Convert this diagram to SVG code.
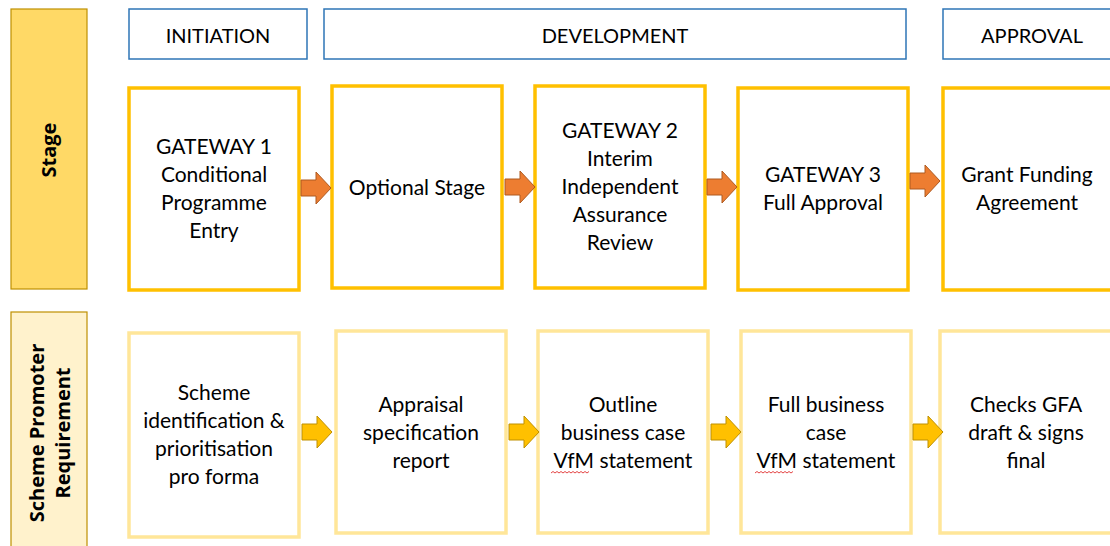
<svg xmlns="http://www.w3.org/2000/svg" width="1110" height="546" viewBox="0 0 1110 546">
<style>
.t{font-family:Lato,"Open Sans","Liberation Sans",sans-serif;font-size:21px;fill:#000;text-anchor:middle}
.h{font-family:Lato,"Open Sans","Liberation Sans",sans-serif;font-size:20px;fill:#000;text-anchor:middle}
.lb{font-family:"Open Sans","Noto Sans","Liberation Sans",sans-serif;font-size:20px;font-weight:bold;fill:#000;text-anchor:middle}
.hdr{fill:#fff;stroke:#2E75B6;stroke-width:1.5}
.top{fill:#fff;stroke:#FFC000;stroke-width:3.5}
.bot{fill:#fff;stroke:#FFE699;stroke-width:3.5}
.ao{fill:#ED7D31;stroke:#AE5A21;stroke-width:1}
.ay{fill:#FFC000;stroke:#BF9000;stroke-width:1}
.sq{fill:none;stroke:#E03030;stroke-width:0.9}
</style>
<defs>
<path id="arr" d="M0,-8 H15 V-16 L30,0 L15,16 V8 H0 Z"/>
</defs>
<rect width="1110" height="546" fill="#fff"/>
<g id="lane-stage">
<rect x="11" y="9" width="76" height="280" fill="#FFD966" stroke="#BF9000" stroke-width="1.2"/>
<text class="lb" transform="translate(56,150) rotate(-90)">Stage</text>
</g>
<g id="lane-req">
<rect x="11" y="312" width="76" height="240" fill="#FFF2CC" stroke="#BF9000" stroke-width="1.2"/>
<text class="lb" transform="translate(44,433) rotate(-90)">Scheme Promoter</text>
<text class="lb" transform="translate(70,433) rotate(-90)">Requirement</text>
</g>
<g id="hdr-initiation">
<rect class="hdr" x="129" y="9" width="178" height="50"/>
<text class="h" x="218" y="43">INITIATION</text>
</g>
<g id="hdr-development">
<rect class="hdr" x="324" y="9" width="582" height="50"/>
<text class="h" x="615" y="43">DEVELOPMENT</text>
</g>
<g id="hdr-approval">
<rect class="hdr" x="943" y="9" width="180" height="50"/>
<text class="h" x="1032" y="43">APPROVAL</text>
</g>
<g id="s1">
<rect class="top" x="129" y="88" width="170" height="202"/>
<text class="t" x="214" y="154">GATEWAY 1</text>
<text class="t" x="214" y="182">Conditional</text>
<text class="t" x="214" y="210">Programme</text>
<text class="t" x="214" y="238">Entry</text>
</g>
<g id="s2">
<rect class="top" x="332" y="86" width="170" height="202"/>
<text class="t" x="417" y="195">Optional Stage</text>
</g>
<g id="s3">
<rect class="top" x="535" y="86" width="170" height="202"/>
<text class="t" x="620" y="138">GATEWAY 2</text>
<text class="t" x="620" y="166">Interim</text>
<text class="t" x="620" y="194">Independent</text>
<text class="t" x="620" y="222">Assurance</text>
<text class="t" x="620" y="250">Review</text>
</g>
<g id="s4">
<rect class="top" x="738" y="88" width="170" height="202"/>
<text class="t" x="823" y="182">GATEWAY 3</text>
<text class="t" x="823" y="210">Full Approval</text>
</g>
<g id="s5">
<rect class="top" x="943" y="88" width="180" height="202"/>
<text class="t" x="1027" y="182">Grant Funding</text>
<text class="t" x="1027" y="210">Agreement</text>
</g>
<g id="r1">
<rect class="bot" x="129" y="333" width="170" height="204"/>
<text class="t" x="214" y="400">Scheme</text>
<text class="t" x="214" y="428">identification &amp;</text>
<text class="t" x="214" y="456">prioritisation</text>
<text class="t" x="214" y="484">pro forma</text>
</g>
<g id="r2">
<rect class="bot" x="336" y="331" width="170" height="202"/>
<text class="t" x="421" y="412">Appraisal</text>
<text class="t" x="421" y="440">specification</text>
<text class="t" x="421" y="468">report</text>
</g>
<g id="r3">
<rect class="bot" x="538" y="331" width="170" height="202"/>
<text class="t" x="623" y="412">Outline</text>
<text class="t" x="623" y="440">business case</text>
<text class="t" x="623" y="468">VfM statement</text>
<path class="sq" d="M551,473 l2,-1.5 l2,1.5 l2,-1.5 l2,1.5 l2,-1.5 l2,1.5 l2,-1.5 l2,1.5 l2,-1.5 l2,1.5 l2,-1.5 l2,1.5 l2,-1.5 l2,1.5 l2,-1.5 l2,1.5 l2,-1.5 l2,1.5 l2,-1.5"/>
</g>
<g id="r4">
<rect class="bot" x="741" y="331" width="170" height="202"/>
<text class="t" x="826" y="412">Full business</text>
<text class="t" x="826" y="440">case</text>
<text class="t" x="826" y="468">VfM statement</text>
<path class="sq" d="M755,473 l2,-1.5 l2,1.5 l2,-1.5 l2,1.5 l2,-1.5 l2,1.5 l2,-1.5 l2,1.5 l2,-1.5 l2,1.5 l2,-1.5 l2,1.5 l2,-1.5 l2,1.5 l2,-1.5 l2,1.5 l2,-1.5 l2,1.5 l2,-1.5"/>
</g>
<g id="r5">
<rect class="bot" x="940" y="331" width="180" height="202"/>
<text class="t" x="1026" y="412">Checks GFA</text>
<text class="t" x="1026" y="440">draft &amp; signs</text>
<text class="t" x="1026" y="468">final</text>
</g>
<g id="connectors">
<use href="#arr" class="ao" transform="translate(301,188)"/>
<use href="#arr" class="ao" transform="translate(505,187)"/>
<use href="#arr" class="ao" transform="translate(707,187)"/>
<use href="#arr" class="ao" transform="translate(910,181)"/>
<use href="#arr" class="ay" transform="translate(302,432)"/>
<use href="#arr" class="ay" transform="translate(509,432)"/>
<use href="#arr" class="ay" transform="translate(711,432)"/>
<use href="#arr" class="ay" transform="translate(913,432)"/>
</g>
</svg>
